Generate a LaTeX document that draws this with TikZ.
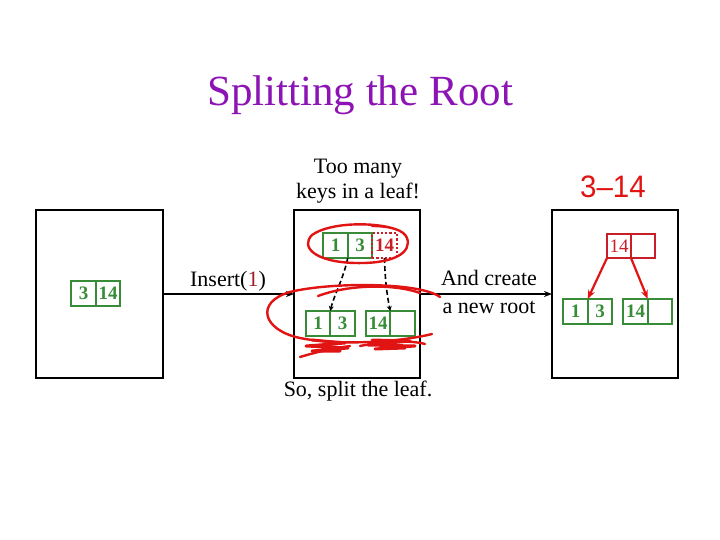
\documentclass[tikz,border=0pt]{standalone}
\usepackage{fontspec}
\setmainfont{Liberation Serif}
\newfontfamily\handfont{Liberation Sans}
\usetikzlibrary{arrows.meta,positioning}
\definecolor{ttl}{RGB}{140,20,180}
\definecolor{kgreen}{RGB}{56,140,56}
\definecolor{kred}{RGB}{200,30,40}
\definecolor{ink}{RGB}{225,20,20}
\definecolor{onered}{RGB}{160,30,40}
\tikzset{
  panel/.style={draw=black, line width=1.3pt, minimum width=126pt, minimum height=168pt, inner sep=0pt, outer sep=0pt},
  cell/.style={draw=kgreen, line width=2.2pt, minimum width=24.5pt, minimum height=25pt, inner sep=0pt, outer sep=0pt,
    text=kgreen, font=\fontsize{19}{19}\selectfont\bfseries},
  rcell/.style={draw=kred, line width=1.3pt, minimum width=24pt, minimum height=24pt, inner sep=0pt, outer sep=0pt,
    text=kred, font=\fontsize{19}{19}\selectfont},
  dotcell/.style={cell, draw=kred, dotted, line width=2.4pt, text=kred},
  txt/.style={font=\fontsize{22}{25}\selectfont, align=center, inner sep=0pt},
  mainarrow/.style={draw=black, line width=1.6pt, -{Stealth[length=8pt,width=6pt]}},
  ptr/.style={draw=black, line width=1.6pt, dash pattern=on 5pt off 3pt, -{Stealth[length=5pt,width=5pt]}},
  redptr/.style={draw=ink, line width=2.2pt, -{Stealth[length=9pt,width=7pt]}},
  scrib/.style={draw=ink, line width=2.4pt, line cap=round, line join=round}
}
\begin{document}
\begin{tikzpicture}[x=1pt,y=-1pt]
\useasboundingbox (0,0) rectangle (720,540);

% title
\node[font=\fontsize{43}{50}\selectfont, text=ttl, inner sep=0pt] (title) at (360,95) {Splitting the Root};

% panels
\node[panel, minimum width=127pt] (L) at (99.5,294) {};
\node[panel] (M) at (357,294) {};
\node[panel] (R) at (615,294) {};

% left panel node
\node[cell] (l1) at (83.5,293.5) {3};
\node[cell, right=0pt of l1] (l2) {14};

% middle panel
\node[cell] (a1) at (335.5,245.5) {1};
\node[cell, right=0pt of a1] (a2) {3};
\node[dotcell, right=0pt of a2] (a3) {14};

\node[cell] (b1) at (318,323.5) {1};
\node[cell, right=0pt of b1] (b2) {3};
\node[cell] (c1) at (378,323.5) {14};
\node[cell, right=0pt of c1] (c2) {};

\draw[ptr] (a1.south east) .. controls (343,280) and (334,295) .. (b1.north east);
\draw[ptr] (a3.south) .. controls (385,280) and (387,295) .. (c1.north east);

% right panel
\node[rcell] (r1) at (619,246) {14};
\node[rcell, right=0pt of r1] (r2) {};
\node[cell] (d1) at (575.5,311.5) {1};
\node[cell, right=0pt of d1] (d2) {3};
\node[cell] (e1) at (635.5,311.5) {14};
\node[cell, right=0pt of e1] (e2) {};

\draw[redptr] (r1.south west) -- (d1.north east);
\draw[redptr] (r1.south east) -- (e1.north east);

% main arrows
\draw[mainarrow] (L.east) -- (M.west);
\draw[mainarrow] (M.east) -- (R.west);

% texts
\node[txt] (ins) at (228,281) {Insert(\textcolor{onered}{1})};
\node[txt] (too) at (358,181) {Too many\\keys in a leaf!};
\node[txt] (split) at (358,391) {So, split the leaf.};
\node[txt] (and1) at (489,278) {And create};
\node[txt] (and2) at (489,307) {a new root};
\node[font=\handfont\fontsize{31}{31}\selectfont, text=ink, inner sep=0pt, xscale=0.95] (hand) at (613,187) {3–14};

% hand-drawn red marks
\draw[scrib] (395,229) .. controls (375,222) and (330,222) .. (312,235)
  .. controls (300,247) and (315,262) .. (355,263)
  .. controls (395,264) and (412,252) .. (407,238)
  .. controls (404,230) and (390,226) .. (372,226);
\draw[scrib] (440,297) .. controls (420,282) and (330,282) .. (290,292)
  .. controls (255,302) and (262,330) .. (300,338)
  .. controls (340,346) and (400,342) .. (432,334);
\draw[scrib] (318,296) .. controls (350,284) and (395,284) .. (420,293);
\draw[scrib, line width=3pt] (312,340) -- (345,343) -- (306,346) -- (348,348) -- (312,351) -- (340,351);
\draw[scrib] (300,357) .. controls (320,351) and (335,348) .. (350,346);
\draw[scrib, line width=3pt] (372,340) -- (410,341) -- (368,345) -- (415,346) -- (375,349) -- (405,348);
\draw[scrib] (360,346) .. controls (385,341) and (410,340) .. (425,344);
\end{tikzpicture}
\end{document}
